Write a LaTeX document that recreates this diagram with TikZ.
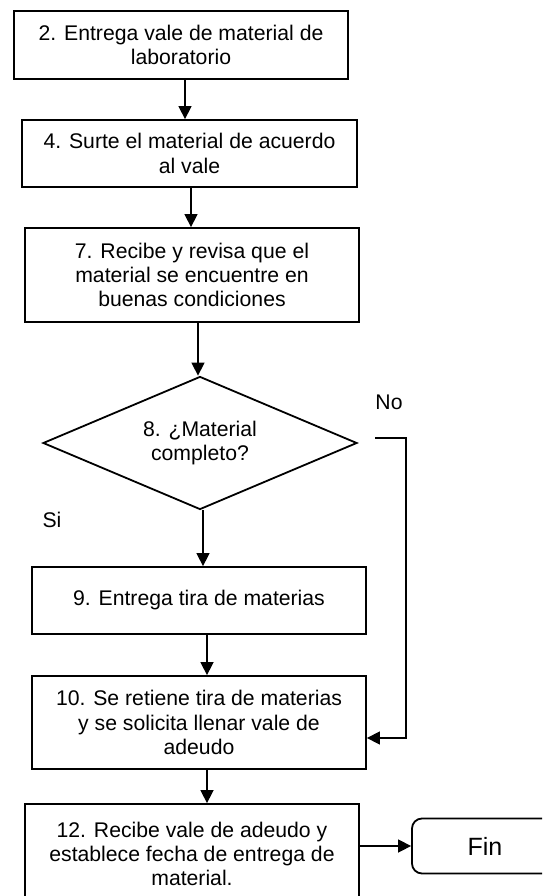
\documentclass[tikz,border=0pt]{standalone}
\usepackage{fontspec}
\setmainfont{Liberation Sans}
\usetikzlibrary{arrows.meta, shapes, positioning}

\begin{document}
\begin{tikzpicture}[x=1pt,y=-1pt,->,>={Triangle[length=13pt,width=13pt]},line width=1.5pt,
	caja/.style={rectangle,draw,line width=1.8pt,align=center,minimum width=334pt,inner sep=2pt,font=\fontsize{21.2}{24.4}\selectfont},
	decision/.style={diamond,draw,line width=1.8pt,align=center,aspect=2.36,inner sep=0pt,minimum width=314pt,minimum height=133pt,font=\fontsize{21.2}{24.4}\selectfont},
	fin node/.style={rectangle,draw,rounded corners=10pt,line width=1.8pt,minimum width=146pt,minimum height=55pt,font=\fontsize{25}{30}\selectfont},
	etiqueta/.style={font=\fontsize{21.2}{24.4}\selectfont}]
	\useasboundingbox (0,0) rectangle (542,896);
	\clip (0,0) rectangle (542,896);
	
	% Definición de los nodos
	\node[caja, minimum height=68pt] (2) at (181,45) {2. Entrega vale de material de\\laboratorio};
	\node[caja, minimum height=67pt, minimum width=335pt] (4) at (189.5,153.5) {4. Surte el material de acuerdo\\al vale};
	\node[caja, minimum height=94pt] (7) at (192,275) {7. Recibe y revisa que el\\material se encuentre en\\buenas condiciones};
	\node[decision] (8) at (200,443) {8. ¿Material\\completo?};
	\node[caja, minimum height=67pt] (9) at (199,600.5) {9. Entrega tira de materias};
	\node[caja, minimum height=93pt] (10) at (199,722.5) {10. Se retiene tira de materias\\y se solicita llenar vale de\\adeudo};
	\node[caja, minimum height=100pt] (12) at (192,854) {12. Recibe vale de adeudo y\\establece fecha de entrega de\\material.};
	\node[fin node] (fin) at (485,846) {Fin};
	\node[etiqueta] (no) at (389,402) {No};
	\node[etiqueta] (si) at (52,520) {Si};
	\coordinate (noini) at (375,438);
	\coordinate (codo) at (406,738);
	
	% Conexiones del flujo principal
	\path
	([xshift=4pt]2.south) edge ([xshift=-4.5pt]4.north)
	([xshift=1.5pt]4.south) edge ([xshift=-1pt]7.north)
	([xshift=6pt]7.south) edge ([xshift=-2pt]8.north)
	([xshift=3pt]8.south) edge ([xshift=4pt]9.north)
	([xshift=8pt]9.south) edge ([xshift=8pt]10.north)
	([xshift=8pt]10.south) edge ([xshift=15pt]12.north)
	([yshift=8pt]12.east) edge (fin.west);
	
	% Rama del No hacia el paso 10
	\draw (noini) -| (codo) -- ([yshift=-15.5pt]10.east);
\end{tikzpicture}
\end{document}
